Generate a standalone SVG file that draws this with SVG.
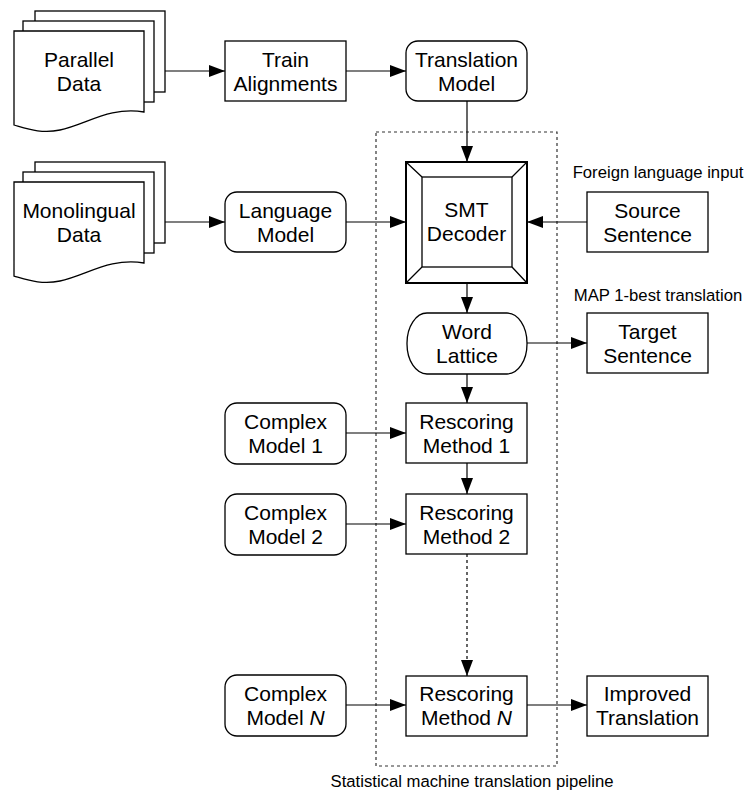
<svg xmlns="http://www.w3.org/2000/svg" width="749" height="794" viewBox="0 0 749 794">
<defs>
<marker id="ah" markerUnits="userSpaceOnUse" markerWidth="18" markerHeight="14" refX="16" refY="6" orient="auto">
<path d="M0,0 L16,6 L0,12 Z" fill="#000"/>
</marker>
<style>
.b{fill:#fff;stroke:#000;stroke-width:1.3}
.t{font-family:"Liberation Sans",Arial,sans-serif;font-size:21px;fill:#000;text-anchor:middle}
.s{font-family:"Liberation Sans",Arial,sans-serif;font-size:16.7px;fill:#000;text-anchor:middle}
.c{fill:none;stroke:#000;stroke-width:1.2}
.d{stroke-dasharray:3,3}
</style>
</defs>
<rect width="749" height="794" fill="#fff"/>
<g id="pipeline-box">
<rect x="376" y="132" width="181" height="634" fill="none" stroke="#333" stroke-width="1.2" class="d"/>
<text class="s" x="472" y="787">Statistical machine translation pipeline</text>
</g>
<g id="parallel-data">
<rect class="b" x="35" y="11" width="130" height="81"/>
<rect class="b" x="23" y="21" width="131" height="81"/>
<path class="b" d="M14,31 H144 V112 C110,106 85,125 60,130 C42,134 28,129 14,125 Z"/>
<text class="t" x="79" y="67">Parallel</text>
<text class="t" x="79" y="91">Data</text>
</g>
<g id="monolingual-data">
<rect class="b" x="35" y="162" width="130" height="81"/>
<rect class="b" x="23" y="172" width="131" height="81"/>
<path class="b" d="M14,182 H144 V263 C110,257 85,276 60,281 C42,285 28,280 14,276 Z"/>
<text class="t" x="79" y="218">Monolingual</text>
<text class="t" x="79" y="242">Data</text>
</g>
<g id="train-alignments">
<rect class="b" x="225" y="41" width="121" height="60"/>
<text class="t" x="285.5" y="67">Train</text>
<text class="t" x="285.5" y="91">Alignments</text>
</g>
<g id="translation-model">
<rect class="b" x="406" y="41" width="121" height="60" rx="12"/>
<text class="t" x="466.5" y="67">Translation</text>
<text class="t" x="466.5" y="91">Model</text>
</g>
<g id="language-model">
<rect class="b" x="225" y="192" width="121" height="60" rx="12"/>
<text class="t" x="285.5" y="218">Language</text>
<text class="t" x="285.5" y="242">Model</text>
</g>
<g id="smt-decoder">
<rect x="406" y="162" width="121" height="121" fill="#fff" stroke="#000" stroke-width="2"/>
<rect x="422" y="177" width="90" height="90" fill="none" stroke="#000" stroke-width="1.3"/>
<path d="M406,162 L422,177 M527,162 L512,177 M406,283 L422,267 M527,283 L512,267" stroke="#000" stroke-width="1.3"/>
<text class="t" x="466.5" y="217">SMT</text>
<text class="t" x="466.5" y="241">Decoder</text>
</g>
<g id="source-sentence">
<text class="s" x="658" y="178">Foreign language input</text>
<rect class="b" x="587" y="192" width="121" height="60"/>
<text class="t" x="647.5" y="218">Source</text>
<text class="t" x="647.5" y="242">Sentence</text>
</g>
<g id="word-lattice">
<rect class="b" x="407" y="313" width="120" height="61" rx="20" ry="30"/>
<text class="t" x="467" y="339">Word</text>
<text class="t" x="467" y="363">Lattice</text>
</g>
<g id="target-sentence">
<text class="s" x="658" y="301">MAP 1-best translation</text>
<rect class="b" x="587" y="313" width="121" height="60"/>
<text class="t" x="647.5" y="339">Target</text>
<text class="t" x="647.5" y="363">Sentence</text>
</g>
<g id="complex-model-1">
<rect class="b" x="225" y="403" width="121" height="61" rx="12"/>
<text class="t" x="285.5" y="429">Complex</text>
<text class="t" x="285.5" y="453">Model 1</text>
</g>
<g id="rescoring-method-1">
<rect class="b" x="406" y="403" width="121" height="60"/>
<text class="t" x="466.5" y="429">Rescoring</text>
<text class="t" x="466.5" y="453">Method 1</text>
</g>
<g id="complex-model-2">
<rect class="b" x="225" y="494" width="121" height="61" rx="12"/>
<text class="t" x="285.5" y="520">Complex</text>
<text class="t" x="285.5" y="544">Model 2</text>
</g>
<g id="rescoring-method-2">
<rect class="b" x="406" y="494" width="121" height="60"/>
<text class="t" x="466.5" y="520">Rescoring</text>
<text class="t" x="466.5" y="544">Method 2</text>
</g>
<g id="complex-model-n">
<rect class="b" x="225" y="675" width="121" height="61" rx="12"/>
<text class="t" x="285.5" y="701">Complex</text>
<text class="t" x="285.5" y="725">Model <tspan font-style="italic">N</tspan></text>
</g>
<g id="rescoring-method-n">
<rect class="b" x="406" y="676" width="121" height="60"/>
<text class="t" x="466.5" y="701">Rescoring</text>
<text class="t" x="466.5" y="725">Method <tspan font-style="italic">N</tspan></text>
</g>
<g id="improved-translation">
<rect class="b" x="587" y="676" width="121" height="60"/>
<text class="t" x="647.5" y="701">Improved</text>
<text class="t" x="647.5" y="725">Translation</text>
</g>
<g id="connectors">
<path class="c" d="M165,71 H225" marker-end="url(#ah)"/>
<path class="c" d="M346,71 H406" marker-end="url(#ah)"/>
<path class="c" d="M467,101 V162" marker-end="url(#ah)"/>
<path class="c" d="M165,222 H225" marker-end="url(#ah)"/>
<path class="c" d="M346,222 H406" marker-end="url(#ah)"/>
<path class="c" d="M587,222 H527" marker-end="url(#ah)"/>
<path class="c" d="M467,283 V313" marker-end="url(#ah)"/>
<path class="c" d="M527,343 H587" marker-end="url(#ah)"/>
<path class="c" d="M467,374 V403" marker-end="url(#ah)"/>
<path class="c" d="M346,433 H406" marker-end="url(#ah)"/>
<path class="c" d="M467,463 V494" marker-end="url(#ah)"/>
<path class="c" d="M346,524 H406" marker-end="url(#ah)"/>
<path class="c d" d="M467,554 V676" marker-end="url(#ah)"/>
<path class="c" d="M346,705 H406" marker-end="url(#ah)"/>
<path class="c" d="M527,705 H587" marker-end="url(#ah)"/>
</g>
</svg>
